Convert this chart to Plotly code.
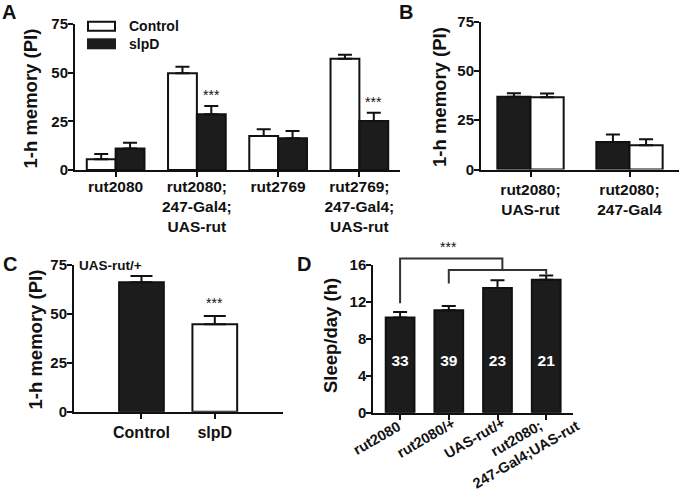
import plotly.graph_objects as go

# ---- data ----
# panel A: 1-h memory, Control vs slpD
a_groups = ['rut2080', 'rut2080;<br>247-Gal4;<br>UAS-rut', 'rut2769', 'rut2769;<br>247-Gal4;<br>UAS-rut']
a_control = [5.5, 49.7, 17.5, 57.2]
a_control_err = [2.7, 3.4, 3.4, 2.0]
a_slpd = [11.1, 28.6, 16.3, 25.2]
a_slpd_err = [2.9, 4.3, 3.7, 4.2]
a_sig = ['', '***', '', '***']

# panel B
b_groups = ['rut2080;<br>UAS-rut', 'rut2080;<br>247-Gal4']
b_black = [36.9, 14.0]
b_black_err = [1.8, 3.7]
b_white = [36.6, 12.3]
b_white_err = [2.0, 3.1]

# panel C: UAS-rut/+
c_groups = ['Control', 'slpD']
c_values = [66.2, 44.7]
c_err = [3.2, 4.2]
c_sig = ['', '***']

# panel D: sleep per day
d_groups = ['rut2080', 'rut2080/+', 'UAS-rut/+', 'rut2080;<br>247-Gal4;UAS-rut']
d_sleep = [10.3, 11.1, 13.5, 14.4]
d_err = [0.6, 0.45, 0.85, 0.45]
d_n = ['33', '39', '23', '21']

FONT = 'Liberation Sans, Arial, sans-serif'
INK = '#111111'
DARK = '#1c1c1c'
W, H = 680, 492


def px(x):
    return x / W


def py(y):
    return 1 - y / H


def err(vals, width=7):
    return dict(type='data', symmetric=False, array=vals, arrayminus=[0] * len(vals),
                color=INK, thickness=2, width=width)


fig = go.Figure()

# A
fig.add_trace(go.Bar(x=a_groups, y=a_control, width=0.355, offset=-0.355,
                     marker=dict(color='white', line=dict(color=INK, width=2)),
                     error_y=err(a_control_err), xaxis='x', yaxis='y', name='Control'))
fig.add_trace(go.Bar(x=a_groups, y=a_slpd, width=0.355, offset=0,
                     marker=dict(color=DARK, line=dict(color=INK, width=2)),
                     error_y=err(a_slpd_err), xaxis='x', yaxis='y', name='slpD'))

# B
fig.add_trace(go.Bar(x=b_groups, y=b_black, width=0.335, offset=-0.335,
                     marker=dict(color=DARK, line=dict(color=INK, width=2)),
                     error_y=err(b_black_err), xaxis='x2', yaxis='y2'))
fig.add_trace(go.Bar(x=b_groups, y=b_white, width=0.335, offset=0,
                     marker=dict(color='white', line=dict(color=INK, width=2)),
                     error_y=err(b_white_err), xaxis='x2', yaxis='y2'))

# C
fig.add_trace(go.Bar(x=c_groups, y=c_values, width=0.61,
                     marker=dict(color=[DARK, 'white'], line=dict(color=INK, width=2)),
                     error_y=err(c_err, width=11), xaxis='x3', yaxis='y3'))

# D
fig.add_trace(go.Bar(x=d_groups, y=d_sleep, width=0.59,
                     marker=dict(color=DARK, line=dict(color=INK, width=2)),
                     error_y=err(d_err), xaxis='x4', yaxis='y4'))
fig.add_trace(go.Scatter(x=d_groups, y=[5.5] * len(d_groups), text=d_n, mode='text',
                         textfont=dict(family=FONT, size=15.5, color='white', weight='bold'),
                         xaxis='x4', yaxis='y4'))

axis_style = dict(showline=True, linecolor=INK, linewidth=2, ticks='outside', ticklen=5,
                  tickwidth=2, tickcolor=INK, showgrid=False, zeroline=False, fixedrange=True,
                  automargin=False,
                  tickfont=dict(family=FONT, size=15, color=INK, weight='bold'))
y_style = dict(axis_style, ticklabelstandoff=-3)

dom = {
    'A': ([px(75), px(400)], [py(170), py(24)], [-0.5, 3.5]),
    'B': ([px(481), px(679)], [py(169.5), py(21.7)], [-0.5, 1.5]),
    'C': ([px(74), px(283)], [py(411.7), py(265)], [-0.92, 1.93]),
    'D': ([px(373.3), px(573)], [py(412.7), py(265)], [-0.55, 3.55]),
}

fig.update_layout(
    template='none',
    width=W, height=H, margin=dict(l=0, r=0, t=0, b=0, pad=0),
    plot_bgcolor='white', paper_bgcolor='white', showlegend=False, barmode='group',
    font=dict(family=FONT, color=INK),
    xaxis=dict(axis_style, domain=dom['A'][0], anchor='y', type='category', range=dom['A'][2],
               ticklabelstandoff=-4,
               tickfont=dict(family=FONT, size=15.5, color=INK, weight='bold')),
    yaxis=dict(y_style, domain=dom['A'][1], anchor='x', range=[0, 75], tickvals=[0, 25, 50, 75]),
    xaxis2=dict(axis_style, domain=dom['B'][0], anchor='y2', type='category', range=dom['B'][2],
                tickfont=dict(family=FONT, size=15.5, color=INK, weight='bold')),
    yaxis2=dict(y_style, domain=dom['B'][1], anchor='x2', range=[0, 75], tickvals=[0, 25, 50, 75]),
    xaxis3=dict(axis_style, domain=dom['C'][0], anchor='y3', type='category', range=dom['C'][2],
                tickfont=dict(family=FONT, size=16, color=INK, weight='bold')),
    yaxis3=dict(y_style, domain=dom['C'][1], anchor='x3', range=[0, 75], tickvals=[0, 25, 50, 75]),
    xaxis4=dict(axis_style, domain=dom['D'][0], anchor='y4', type='category', range=dom['D'][2],
                showticklabels=False),
    yaxis4=dict(y_style, domain=dom['D'][1], anchor='x4', range=[0, 16], tickvals=[0, 4, 8, 12, 16]),
)

ann = []
bold = dict(family=FONT, color=INK, weight='bold')

# panel letters
for letter, x, y in [('A', 9, 0), ('B', 406, 0), ('C', 10, 252), ('D', 304, 252)]:
    ann.append(dict(text=letter, x=px(x), y=py(y), xref='paper', yref='paper', showarrow=False,
                    xanchor='center', yanchor='top', borderpad=0, font=dict(bold, size=20)))

# y-axis titles
for t, x, y in [('1-h memory (PI)', 30.5, 99), ('1-h memory (PI)', 439, 97),
                ('1-h memory (PI)', 34.5, 340), ('Sleep/day (h)', 330, 336)]:
    ann.append(dict(text=t, x=px(x), y=py(y), xref='paper', yref='paper', showarrow=False,
                    textangle=-90, xanchor='center', yanchor='middle', font=dict(bold, size=18.5)))

# legend for panel A
fig.add_shape(type='rect', xref='paper', yref='paper', x0=px(88), x1=px(115), y0=py(21.7), y1=py(30.7),
              fillcolor='white', line=dict(color=INK, width=2))
fig.add_shape(type='rect', xref='paper', yref='paper', x0=px(87), x1=px(116), y0=py(38.3), y1=py(49.3),
              fillcolor=DARK, line=dict(width=0))
for t, y in [('Control', 26.5), ('slpD', 44)]:
    ann.append(dict(text=t, x=px(127), y=py(y), xref='paper', yref='paper', showarrow=False,
                    xanchor='left', yanchor='middle', font=dict(bold, size=14)))

# significance stars A
for i, s in enumerate(a_sig):
    if s:
        ann.append(dict(text=s, x=i + 0.1775, y=a_slpd[i] + a_slpd_err[i] + 5.5, xref='x', yref='y',
                        showarrow=False, yanchor='middle', font=dict(family=FONT, size=14, color=INK)))
# C
for i, s in enumerate(c_sig):
    if s:
        ann.append(dict(text=s, x=i, y=c_values[i] + c_err[i] + 6.5, xref='x3', yref='y3',
                        showarrow=False, yanchor='middle', font=dict(family=FONT, size=14, color=INK)))
ann.append(dict(text='UAS-rut/+', x=px(77), y=py(265), xref='paper', yref='paper', showarrow=False,
                xanchor='left', yanchor='middle', font=dict(bold, size=13.5)))

# D helpers: D axis scale in paper units (keeps brackets unclipped)
dx0, dx1 = dom['D'][0]
dy0, dy1 = dom['D'][1]
rx0, rx1 = dom['D'][2]


def dxp(i):
    return dx0 + (i - rx0) / (rx1 - rx0) * (dx1 - dx0)


def dyp(v):
    return dy0 + v / 16 * (dy1 - dy0)


# slanted category labels for D, centred like the original
for i, g in enumerate(d_groups):
    two = '<br>' in g
    ann.append(dict(text=g, x=dxp(i) + px(-25 if two else -23), y=py(446 if two else 438),
                    xref='paper', yref='paper', showarrow=False, textangle=-30, align='center',
                    xanchor='center', yanchor='middle', font=dict(bold, size=14.5)))

brackets = [(0, 2.1, 11.85, 16.7, 15.46), (1, 3, 14.0, 15.46, 15.0)]
for xl, xr, yl, yt, yr in brackets:
    path = 'M{},{} L{},{} L{},{} L{},{}'.format(dxp(xl), dyp(yl), dxp(xl), dyp(yt),
                                                 dxp(xr), dyp(yt), dxp(xr), dyp(yr))
    fig.add_shape(type='path', xref='paper', yref='paper', path=path, line=dict(color='#333333', width=2))
ann.append(dict(text='***', x=dxp(1), y=dyp(17.9), xref='paper', yref='paper', showarrow=False,
                yanchor='middle', font=dict(family=FONT, size=14, color=INK)))

fig.update_layout(annotations=ann)
# drop the default 8px page margin so the 680x492 figure fills the window
fig.write_html('out.html', config={'displayModeBar': False},
               post_script="document.body.style.margin='0';")
